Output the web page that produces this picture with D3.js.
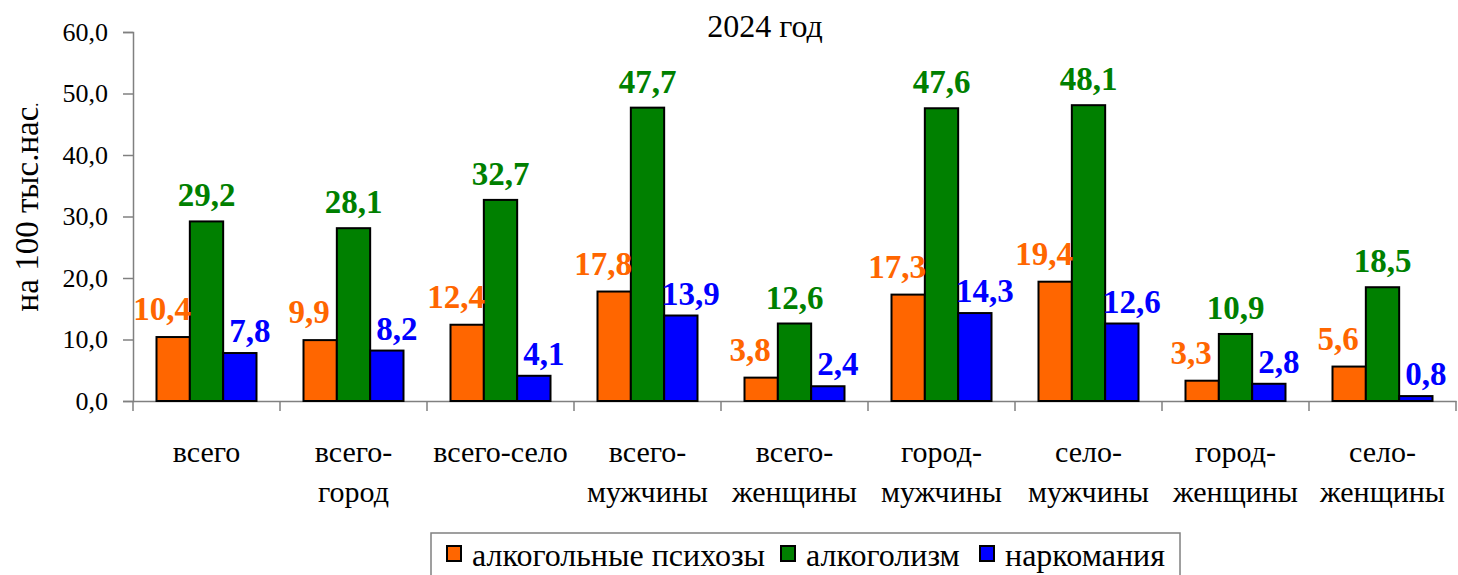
<!DOCTYPE html>
<html>
<head>
<meta charset="utf-8">
<script src="https://cdn.jsdelivr.net/npm/d3@7"></script>
<style>
	body { margin: 0; background: #fff; }
</style>
</head>
<body>
<div id="chart1"></div>
<script>
// Data
var categories = ["всего", "всего-город", "всего-село", "всего-мужчины", "всего-женщины",
	"город-мужчины", "село-мужчины", "город-женщины", "село-женщины"];
var seriesNames = ["алкогольные психозы", "алкоголизм", "наркомания"];
var psychoses = [10.4, 9.9, 12.4, 17.8, 3.8, 17.3, 19.4, 3.3, 5.6];
var alcoholism = [29.2, 28.1, 32.7, 47.7, 12.6, 47.6, 48.1, 10.9, 18.5];
var narcomania = [7.8, 8.2, 4.1, 13.9, 2.4, 14.3, 12.6, 2.8, 0.8];
var yTicks = [0, 10, 20, 30, 40, 50, 60];

var FONT = "Liberation Serif";
var chartConfig = {
	width : 1458,
	height : 575,
	left : 133,
	right : 1456,
	top : 32,
	bottom : 401,
	groupWidth : 100
};
var colors = ["#FF6600", "#008000", "#0000FF"];
// label shifts per series (Excel nudged them sideways)
var labelDx = [-11, 0, 10];
var labelDy = [-17, -15, -11];

var seriesValues = [psychoses, alcoholism, narcomania];
var table = categories.map(function(c, i) {
	return { cat: c, values: seriesValues.map(function(s, k) { return { k: k, v: s[i] }; }) };
});

var comma = function(v) { return d3.format(".1f")(v).replace(".", ","); };

var svg1 = d3.select("#chart1").append("svg")
	.attr("width", chartConfig.width)
	.attr("height", chartConfig.height)
	.attr("font-family", FONT);

var x = d3.scaleBand().domain(categories).range([chartConfig.left, chartConfig.right]);
var xs = d3.scaleBand().domain([0, 1, 2])
	.range([(x.bandwidth() - chartConfig.groupWidth) / 2, (x.bandwidth() + chartConfig.groupWidth) / 2]);
var y = d3.scaleLinear().domain([0, 60]).range([chartConfig.bottom, chartConfig.top]);

// y axis
var yAxis = svg1.append("g")
	.attr("transform", "translate(" + chartConfig.left + ",0)")
	.call(d3.axisLeft(y).tickValues(yTicks).tickFormat(comma).tickSize(10).tickPadding(15));
yAxis.attr("font-family", FONT);
yAxis.select(".domain").attr("stroke", "#808080").attr("stroke-width", 1.5);
yAxis.selectAll(".tick line").attr("stroke", "#808080").attr("stroke-width", 1.5);
yAxis.selectAll(".tick text").attr("font-size", 26).attr("fill", "#000")
	.attr("font-family", FONT);

// x axis
var xAxis = svg1.append("g")
	.attr("transform", "translate(0," + chartConfig.bottom + ")")
	.call(d3.axisBottom(x).tickSize(0).tickFormat(""));
xAxis.attr("font-family", FONT);
xAxis.select(".domain").attr("stroke", "#808080").attr("stroke-width", 1.5);
xAxis.selectAll(".tick").remove();
svg1.append("g").selectAll("line")
	.data(categories.concat([null]))
	.enter().append("line")
	.attr("x1", function(d, i) { return chartConfig.left + x.step() * i; })
	.attr("x2", function(d, i) { return chartConfig.left + x.step() * i; })
	.attr("y1", chartConfig.bottom)
	.attr("y2", chartConfig.bottom + 10)
	.attr("stroke", "#808080")
	.attr("stroke-width", 1.5);

// category labels, split after hyphen
var catLabels = svg1.append("g").selectAll("text")
	.data(categories)
	.enter().append("text")
	.attr("x", function(d) { return x(d) + x.bandwidth() / 2; })
	.attr("y", 462)
	.attr("text-anchor", "middle")
	.attr("font-size", 30)
	.attr("font-family", FONT);
catLabels.each(function(d) {
	var parts = d === "всего-село" ? [d] : d.replace("-", "-\n").split("\n");
	var t = d3.select(this);
	parts.forEach(function(p, j) {
		t.append("tspan").attr("x", x(d) + x.bandwidth() / 2).attr("dy", j === 0 ? 0 : 40).text(p);
	});
});

// bars
var groups = svg1.append("g").selectAll("g")
	.data(table)
	.enter().append("g")
	.attr("transform", function(d) { return "translate(" + x(d.cat) + ",0)"; });

groups.selectAll("rect")
	.data(function(d) { return d.values; })
	.enter().append("rect")
	.attr("x", function(d) { return xs(d.k); })
	.attr("y", function(d) { return y(d.v); })
	.attr("width", xs.bandwidth())
	.attr("height", function(d) { return y(0) - y(d.v); })
	.attr("fill", function(d) { return colors[d.k]; })
	.attr("stroke", "#000")
	.attr("stroke-width", 2);

groups.selectAll("text")
	.data(function(d) { return d.values; })
	.enter().append("text")
	.attr("x", function(d) { return xs(d.k) + xs.bandwidth() / 2 + labelDx[d.k]; })
	.attr("y", function(d) { return y(d.v) + labelDy[d.k]; })
	.attr("text-anchor", "middle")
	.attr("font-size", 33)
	.attr("font-weight", "bold")
	.attr("font-family", FONT)
	.attr("fill", function(d) { return colors[d.k]; })
	.text(function(d) { return comma(d.v); });

// title
svg1.append("text")
	.attr("x", 765)
	.attr("y", 37)
	.attr("text-anchor", "middle")
	.attr("font-size", 32)
	.attr("font-family", FONT)
	.text("2024 год");

// y axis title
var yTitle = svg1.append("text")
	.attr("transform", "translate(38,207) rotate(-90)")
	.attr("text-anchor", "middle")
	.attr("font-size", 33)
	.attr("font-family", FONT);
yTitle.append("tspan").text("на 100 тыс.нас");
yTitle.append("tspan").attr("font-size", 16).text(".");

// legend
var legend = svg1.append("g");
legend.append("rect")
	.attr("x", 431).attr("y", 533)
	.attr("width", 749).attr("height", 60)
	.attr("fill", "#fff")
	.attr("stroke", "#808080")
	.attr("stroke-width", 1.5);
var legendX = [447, 781, 980];
var items = legend.selectAll("g.item")
	.data(seriesNames)
	.enter().append("g")
	.attr("class", "item")
	.attr("transform", function(d, i) { return "translate(" + legendX[i] + ",546)"; });
items.append("rect")
	.attr("width", 14).attr("height", 15)
	.attr("fill", function(d, i) { return colors[i]; })
	.attr("stroke", "#000")
	.attr("stroke-width", 2);
items.append("text")
	.attr("x", 25).attr("y", 20)
	.attr("font-size", 32)
	.attr("font-family", FONT)
	.text(function(d) { return d; });
</script>
</body>
</html>
